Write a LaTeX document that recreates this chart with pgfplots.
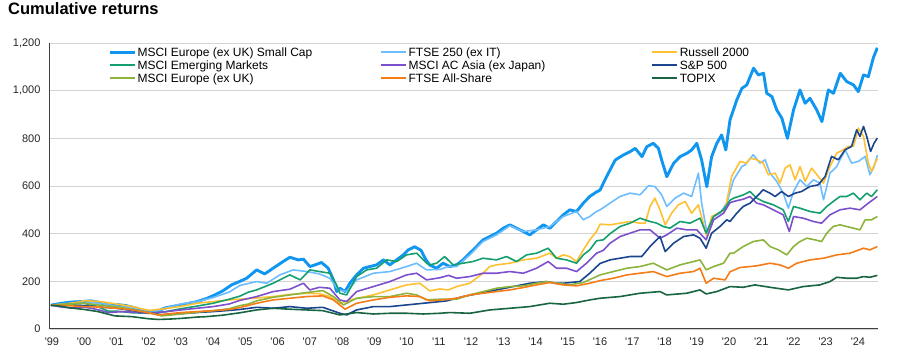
\documentclass[border=0pt]{standalone}
\usepackage{pgfplots}
\pgfplotsset{compat=1.18}
\usepackage{fontspec}
\setmainfont{Liberation Sans}
\definecolor{csc}{RGB}{17,150,240}
\definecolor{cftse}{RGB}{110,190,255}
\definecolor{crus}{RGB}{255,192,50}
\definecolor{cem}{RGB}{20,160,110}
\definecolor{casia}{RGB}{125,80,205}
\definecolor{csp}{RGB}{25,70,140}
\definecolor{ceu}{RGB}{140,180,60}
\definecolor{call}{RGB}{245,125,25}
\definecolor{ctopix}{RGB}{25,100,65}
\begin{document}
\begin{tikzpicture}
\path[use as bounding box] (-50pt,-27pt) rectangle (850pt,329pt);
\node[anchor=base west, font=\fontsize{16.5}{19}\selectfont\bfseries, inner sep=0pt] at (-42pt,314pt) {Cumulative returns};
\begin{axis}[
  at={(0,0)}, anchor=south west,
  width=828pt, height=286pt, scale only axis,
  xmin=1998.94, xmax=2024.62, ymin=0, ymax=1200,
  axis x line*=bottom, axis y line*=left,
  axis line style={black!75, line width=1pt},
  ytick={0,200,...,1200},
  ymajorgrids, grid style={black!17, line width=0.8pt},
  major tick length=0pt,
  xtick={1999,...,2024},
  xticklabels={\textquotesingle99,\textquotesingle00,\textquotesingle01,\textquotesingle02,\textquotesingle03,\textquotesingle04,\textquotesingle05,\textquotesingle06,\textquotesingle07,\textquotesingle08,\textquotesingle09,\textquotesingle10,\textquotesingle11,\textquotesingle12,\textquotesingle13,\textquotesingle14,\textquotesingle15,\textquotesingle16,\textquotesingle17,\textquotesingle18,\textquotesingle19,\textquotesingle20,\textquotesingle21,\textquotesingle22,\textquotesingle23,\textquotesingle24},
  tick label style={font=\fontsize{11}{13}\selectfont, text=black!85},
  /pgf/number format/assume math mode=true,
  yticklabel style={/pgf/number format/1000 sep={,}, xshift=-6pt},
  xticklabel style={yshift=-5pt},
  legend columns=3,
  legend cell align=left,
  legend style={at={(0.07,0.991)}, anchor=north west, draw=none, fill=none,
    font=\fontsize{12}{14}\selectfont, inner sep=0pt, row sep=0pt, column sep=0pt,
    nodes={inner xsep=1.5pt, inner ysep=0pt, text height=10.75pt, text depth=2.15pt}},
  legend image code/.code={\draw[#1] (0pt,0pt) -- (25pt,0pt);},
  every axis plot/.append style={line width=1.6pt, line join=round},
]
\addplot[csc, line width=2.9pt] coordinates {(1998.97,100)(1999.3,108)(1999.6,113)(1999.9,115)(2000.2,118)(2000.45,112)(2000.74,100)(2001.0,103)(2001.3,98)(2001.6,88)(2001.9,75)(2002.1,73)(2002.3,76)(2002.5,88)(2002.75,95)(2003.0,101)(2003.25,108)(2003.5,115)(2003.8,128)(2004.05,143)(2004.3,160)(2004.57,185)(2004.83,200)(2005.04,213)(2005.35,248)(2005.6,231)(2005.86,255)(2006.17,283)(2006.38,301)(2006.64,290)(2006.8,293)(2007.0,262)(2007.16,269)(2007.36,279)(2007.57,255)(2007.73,206)(2007.83,157)(2007.93,171)(2008.09,157)(2008.24,192)(2008.45,227)(2008.66,255)(2008.86,262)(2009.07,269)(2009.28,290)(2009.48,269)(2009.69,290)(2009.9,311)(2010.05,332)(2010.25,345)(2010.45,330)(2010.6,290)(2010.72,268)(2010.93,255)(2011.13,276)(2011.34,262)(2011.55,269)(2011.75,290)(2011.96,318)(2012.17,346)(2012.37,374)(2012.58,388)(2012.79,402)(2013.0,423)(2013.2,437)(2013.41,423)(2013.62,409)(2013.82,395)(2014.03,416)(2014.24,437)(2014.44,423)(2014.65,451)(2014.86,479)(2015.06,500)(2015.27,493)(2015.48,528)(2015.68,556)(2015.89,575)(2016.0,583)(2016.2,639)(2016.47,709)(2016.72,730)(2016.93,744)(2017.09,758)(2017.3,723)(2017.45,765)(2017.65,779)(2017.81,758)(2017.91,709)(2018.07,639)(2018.28,695)(2018.48,723)(2018.69,737)(2018.84,751)(2019.0,779)(2019.15,709)(2019.31,597)(2019.46,723)(2019.62,779)(2019.77,814)(2019.9,751)(2020.03,877)(2020.24,961)(2020.4,1010)(2020.55,1024)(2020.76,1094)(2020.91,1066)(2021.07,1073)(2021.17,989)(2021.33,975)(2021.48,919)(2021.64,884)(2021.81,800)(2022.0,919)(2022.2,1003)(2022.36,947)(2022.51,968)(2022.72,919)(2022.88,870)(2023.08,1003)(2023.24,989)(2023.45,1073)(2023.65,1038)(2023.86,1024)(2024.01,996)(2024.17,1066)(2024.32,1059)(2024.48,1140)(2024.6,1180)};
\addlegendentry{\makebox[241.5pt][l]{MSCI Europe (ex UK) Small Cap}}
\addplot[cftse] coordinates {(1998.97,100)(1999.5,107)(2000.0,112)(2000.5,108)(2001.0,96)(2001.5,90)(2002.0,77)(2002.3,75)(2002.5,88)(2003.0,105)(2003.5,115)(2004.0,132)(2004.5,155)(2004.83,183)(2005.35,199)(2005.66,192)(2006.07,227)(2006.48,248)(2006.9,241)(2007.3,231)(2007.62,213)(2007.88,164)(2008.14,157)(2008.45,206)(2008.97,234)(2009.48,241)(2010.0,262)(2010.31,276)(2010.62,248)(2011.03,250)(2011.3,262)(2011.55,262)(2011.96,311)(2012.37,367)(2012.79,395)(2013.2,433)(2013.62,409)(2014.03,416)(2014.44,430)(2014.86,472)(2015.27,493)(2015.48,458)(2015.68,472)(2015.89,493)(2016.0,500)(2016.31,528)(2016.62,556)(2016.93,570)(2017.24,563)(2017.5,601)(2017.7,598)(2017.91,563)(2018.07,514)(2018.33,549)(2018.59,570)(2018.84,556)(2019.05,654)(2019.15,528)(2019.31,409)(2019.52,472)(2019.72,486)(2019.93,528)(2020.14,626)(2020.4,682)(2020.5,689)(2020.75,731)(2020.96,696)(2021.12,710)(2021.27,654)(2021.48,619)(2021.68,570)(2021.84,507)(2022.0,577)(2022.2,626)(2022.41,598)(2022.62,626)(2022.82,612)(2022.93,542)(2023.13,654)(2023.34,682)(2023.6,752)(2023.8,696)(2024.01,703)(2024.22,724)(2024.37,647)(2024.5,682)(2024.6,730)};
\addlegendentry{\makebox[241.5pt][l]{FTSE 250 (ex IT)}}
\addplot[crus] coordinates {(1998.97,100)(1999.4,105)(1999.8,112)(2000.0,119)(2000.5,115)(2001.0,105)(2001.5,94)(2002.0,78)(2002.5,85)(2003.0,95)(2003.5,108)(2004.0,115)(2004.5,122)(2004.83,125)(2005.35,130)(2005.86,136)(2006.38,145)(2006.9,150)(2007.3,148)(2007.62,136)(2007.93,108)(2008.24,122)(2008.97,143)(2009.48,164)(2010.0,185)(2010.41,192)(2010.72,160)(2011.03,168)(2011.3,164)(2011.55,178)(2011.96,192)(2012.37,234)(2012.58,262)(2012.79,269)(2013.2,276)(2013.62,290)(2014.03,297)(2014.44,318)(2014.65,297)(2014.86,311)(2015.06,304)(2015.27,283)(2015.48,332)(2015.68,374)(2015.89,409)(2016.0,440)(2016.31,437)(2016.62,444)(2016.93,451)(2017.24,444)(2017.4,444)(2017.55,514)(2017.7,549)(2017.86,500)(2018.02,437)(2018.22,486)(2018.43,521)(2018.64,535)(2018.84,486)(2019.05,521)(2019.2,444)(2019.31,388)(2019.46,472)(2019.67,486)(2019.88,500)(2020.08,640)(2020.34,703)(2020.55,696)(2020.65,717)(2020.86,710)(2021.06,696)(2021.22,647)(2021.43,654)(2021.58,612)(2021.74,675)(2021.89,689)(2022.05,626)(2022.2,682)(2022.36,619)(2022.56,675)(2022.77,640)(2022.93,612)(2023.13,682)(2023.34,738)(2023.55,752)(2023.7,766)(2023.86,766)(2024.01,843)(2024.17,808)(2024.32,696)(2024.42,661)(2024.6,717)};
\addlegendentry{Russell 2000}
\addplot[cem] coordinates {(1998.97,100)(1999.5,104)(2000.0,108)(2000.4,95)(2000.74,75)(2001.0,75)(2001.5,68)(2002.0,66)(2002.5,72)(2003.0,85)(2003.5,96)(2004.0,108)(2004.5,125)(2004.83,138)(2005.1,155)(2005.35,164)(2005.86,192)(2006.38,227)(2006.7,206)(2007.0,248)(2007.3,241)(2007.62,234)(2007.83,185)(2007.93,150)(2008.14,143)(2008.45,220)(2008.76,248)(2009.07,255)(2009.38,290)(2009.69,283)(2010.0,311)(2010.31,318)(2010.62,276)(2010.72,269)(2010.93,276)(2011.18,304)(2011.44,269)(2011.75,276)(2012.06,283)(2012.37,297)(2012.79,290)(2013.1,304)(2013.41,283)(2013.72,311)(2014.03,318)(2014.39,339)(2014.65,297)(2014.96,290)(2015.27,276)(2015.48,311)(2015.68,332)(2015.89,370)(2016.1,374)(2016.31,400)(2016.62,430)(2016.93,444)(2017.24,465)(2017.55,451)(2017.76,444)(2017.96,430)(2018.17,423)(2018.48,451)(2018.79,444)(2019.1,465)(2019.29,402)(2019.52,472)(2019.83,500)(2020.03,540)(2020.14,549)(2020.45,563)(2020.65,577)(2020.86,549)(2021.06,535)(2021.37,521)(2021.68,500)(2021.84,451)(2022.0,514)(2022.2,507)(2022.51,493)(2022.82,486)(2023.03,514)(2023.23,535)(2023.44,556)(2023.65,556)(2023.86,570)(2024.06,542)(2024.27,570)(2024.42,556)(2024.6,584)};
\addlegendentry{\makebox[241.5pt][l]{MSCI Emerging Markets}}
\addplot[casia] coordinates {(1998.97,100)(1999.3,92)(1999.6,88)(2000.0,92)(2000.4,82)(2000.74,69)(2001.2,73)(2001.6,70)(2002.0,66)(2002.5,72)(2003.0,80)(2003.5,87)(2004.0,94)(2004.5,105)(2004.83,120)(2005.35,136)(2005.86,157)(2006.38,167)(2006.8,192)(2007.0,164)(2007.3,175)(2007.62,171)(2007.93,122)(2008.14,115)(2008.45,157)(2008.97,178)(2009.48,199)(2010.0,227)(2010.31,234)(2010.62,206)(2011.03,215)(2011.3,225)(2011.55,213)(2011.96,220)(2012.37,234)(2012.79,234)(2013.2,241)(2013.62,234)(2014.03,255)(2014.39,283)(2014.65,255)(2014.96,255)(2015.27,241)(2015.58,276)(2015.89,318)(2016.1,330)(2016.31,360)(2016.62,388)(2016.93,402)(2017.24,416)(2017.55,416)(2017.86,381)(2018.07,395)(2018.38,423)(2018.69,416)(2019.0,416)(2019.29,374)(2019.52,458)(2019.83,486)(2020.03,530)(2020.14,535)(2020.45,545)(2020.65,556)(2020.86,528)(2021.06,521)(2021.37,500)(2021.68,479)(2021.87,409)(2022.0,472)(2022.3,465)(2022.62,451)(2022.87,444)(2023.13,479)(2023.44,500)(2023.75,507)(2024.06,500)(2024.32,528)(2024.6,556)};
\addlegendentry{\makebox[241.5pt][l]{MSCI AC Asia (ex Japan)}}
\addplot[csp] coordinates {(1998.97,100)(1999.5,101)(2000.0,98)(2000.5,92)(2001.0,87)(2001.5,77)(2002.0,68)(2002.4,60)(2002.8,63)(2003.2,66)(2003.6,70)(2004.0,73)(2004.5,78)(2004.83,82)(2005.35,91)(2005.86,87)(2006.38,94)(2006.9,87)(2007.4,91)(2007.93,66)(2008.14,59)(2008.45,80)(2008.97,94)(2009.48,94)(2010.0,101)(2010.52,108)(2011.03,115)(2011.24,118)(2011.75,136)(2012.27,150)(2012.79,164)(2013.3,178)(2013.82,192)(2014.34,199)(2014.65,192)(2014.86,192)(2015.37,199)(2015.68,234)(2016.0,275)(2016.31,290)(2016.62,297)(2016.93,304)(2017.29,304)(2017.55,346)(2017.86,388)(2018.02,325)(2018.28,360)(2018.59,388)(2018.9,395)(2019.1,381)(2019.29,339)(2019.46,402)(2019.72,430)(2019.93,458)(2020.03,451)(2020.24,486)(2020.44,514)(2020.65,528)(2020.86,556)(2021.06,584)(2021.27,570)(2021.43,556)(2021.63,577)(2021.84,556)(2022.05,570)(2022.25,577)(2022.51,598)(2022.77,605)(2022.98,640)(2023.18,724)(2023.39,710)(2023.6,752)(2023.8,766)(2023.96,836)(2024.06,808)(2024.17,850)(2024.27,808)(2024.39,745)(2024.5,780)(2024.6,801)};
\addlegendentry{S\&P 500}
\addplot[ceu] coordinates {(1998.97,100)(1999.5,104)(2000.0,108)(2000.5,100)(2001.0,94)(2001.5,82)(2002.0,69)(2002.4,55)(2002.8,60)(2003.2,66)(2003.6,72)(2004.0,77)(2004.5,85)(2004.83,98)(2005.1,105)(2005.35,118)(2005.86,133)(2006.38,143)(2006.9,153)(2007.4,161)(2007.73,136)(2008.04,101)(2008.45,129)(2008.97,136)(2009.48,136)(2010.0,150)(2010.31,143)(2010.62,122)(2011.03,125)(2011.55,125)(2011.96,143)(2012.37,157)(2012.79,171)(2013.2,178)(2013.62,181)(2014.03,192)(2014.34,199)(2014.65,192)(2015.06,185)(2015.48,195)(2015.89,220)(2016.0,227)(2016.41,241)(2016.83,255)(2017.24,262)(2017.65,276)(2018.07,248)(2018.48,269)(2018.9,283)(2019.1,290)(2019.29,248)(2019.52,262)(2019.83,276)(2020.03,318)(2020.14,318)(2020.44,346)(2020.75,367)(2021.06,374)(2021.27,346)(2021.53,332)(2021.79,311)(2022.0,346)(2022.2,367)(2022.41,381)(2022.67,374)(2022.87,367)(2023.03,402)(2023.23,430)(2023.44,437)(2023.65,430)(2023.86,423)(2024.06,416)(2024.22,458)(2024.42,458)(2024.6,472)};
\addlegendentry{\makebox[241.5pt][l]{MSCI Europe (ex UK)}}
\addplot[call] coordinates {(1998.97,100)(1999.5,98)(2000.0,94)(2000.5,92)(2001.0,87)(2001.5,80)(2001.8,73)(2002.3,59)(2002.7,65)(2003.0,69)(2003.5,73)(2004.0,77)(2004.5,82)(2004.83,90)(2005.35,108)(2005.86,122)(2006.38,129)(2006.9,136)(2007.4,139)(2007.73,122)(2008.09,83)(2008.45,108)(2008.97,122)(2009.48,133)(2010.0,139)(2010.41,136)(2010.72,118)(2011.13,122)(2011.55,129)(2011.96,143)(2012.37,150)(2012.79,157)(2013.2,164)(2013.62,174)(2014.03,185)(2014.44,195)(2014.86,185)(2015.27,181)(2015.68,192)(2016.0,203)(2016.41,213)(2016.83,227)(2017.24,234)(2017.65,241)(2018.07,220)(2018.48,234)(2018.9,241)(2019.1,255)(2019.29,192)(2019.52,213)(2019.88,206)(2020.03,240)(2020.34,258)(2020.65,262)(2020.86,265)(2021.27,276)(2021.58,269)(2021.84,255)(2022.1,276)(2022.51,290)(2022.93,297)(2023.34,311)(2023.75,318)(2024.17,339)(2024.37,332)(2024.6,346)};
\addlegendentry{\makebox[241.5pt][l]{FTSE All-Share}}
\addplot[ctopix] coordinates {(1998.97,100)(1999.3,95)(1999.6,88)(2000.0,82)(2000.43,73)(2000.95,55)(2001.47,52)(2002.0,43)(2002.3,40)(2002.7,42)(2003.05,45)(2003.5,50)(2003.8,52)(2004.3,58)(2004.83,68)(2005.35,80)(2005.86,87)(2006.38,83)(2006.9,80)(2007.4,77)(2007.93,59)(2008.14,63)(2008.45,69)(2008.97,63)(2009.48,66)(2010.0,66)(2010.52,63)(2011.03,66)(2011.34,69)(2011.96,66)(2012.58,80)(2013.2,87)(2013.82,94)(2014.44,108)(2014.86,104)(2015.27,111)(2015.68,122)(2016.0,129)(2016.62,136)(2017.24,150)(2017.86,157)(2018.07,143)(2018.69,150)(2019.1,164)(2019.29,147)(2019.62,157)(2020.03,178)(2020.44,175)(2020.8,185)(2021.27,175)(2021.84,164)(2022.3,178)(2022.82,185)(2023.13,199)(2023.34,217)(2023.65,213)(2023.96,213)(2024.17,220)(2024.37,217)(2024.6,225)};
\addlegendentry{TOPIX}
\end{axis}
\end{tikzpicture}
\end{document}
